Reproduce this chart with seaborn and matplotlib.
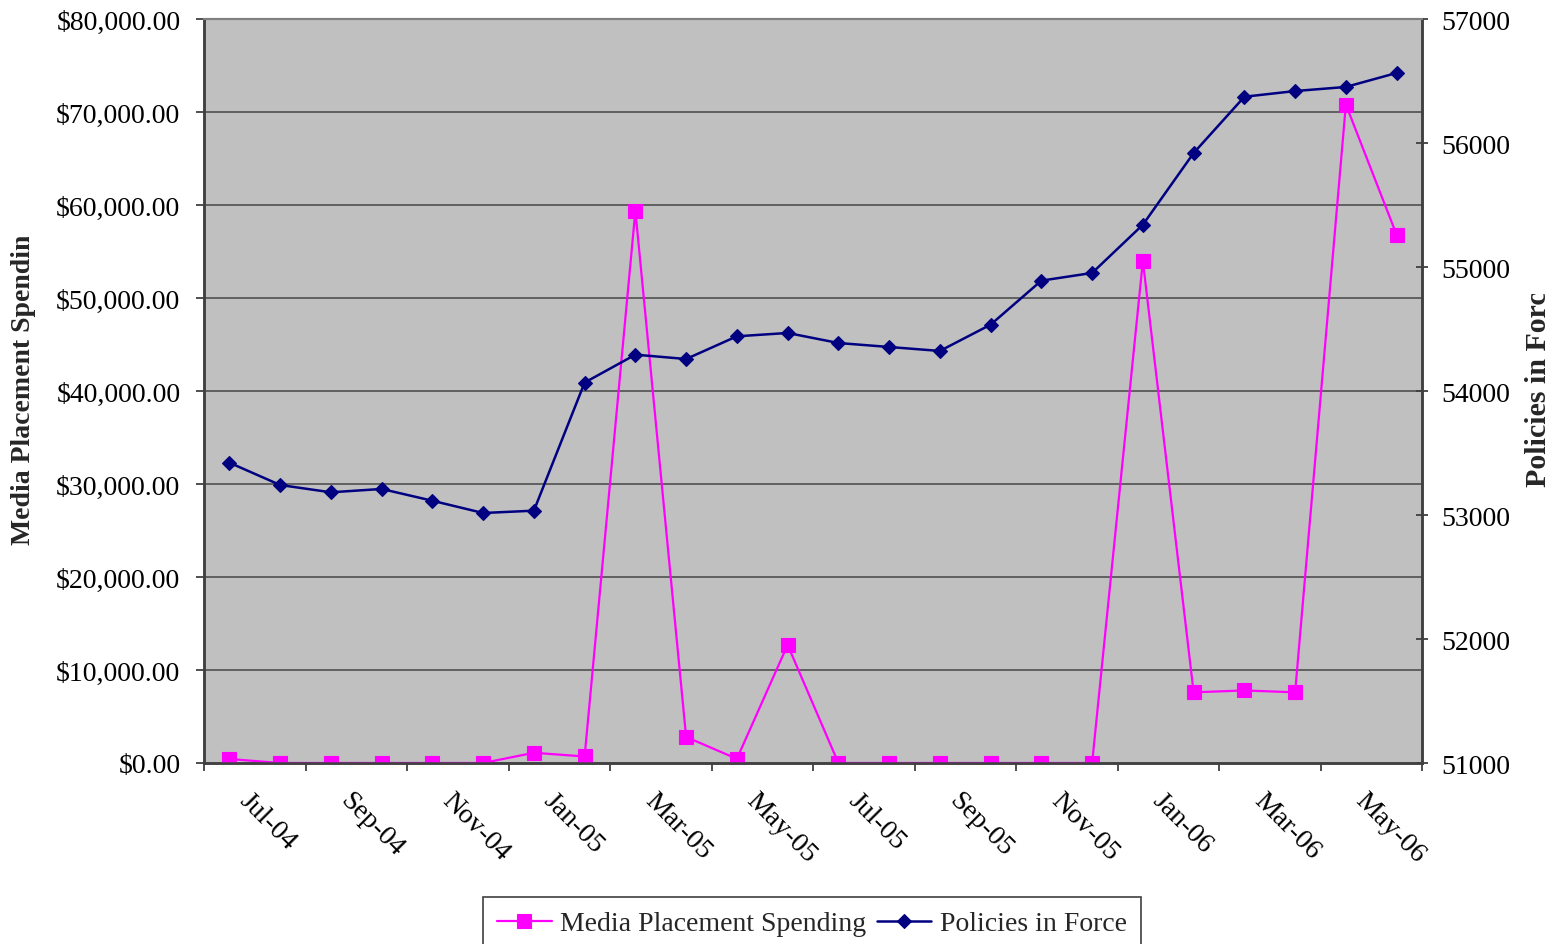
import matplotlib
matplotlib.use("Agg")
import matplotlib.pyplot as plt
import seaborn as sns
import pandas as pd
from matplotlib.transforms import Bbox, ScaledTranslation
from matplotlib.ticker import FuncFormatter, FixedLocator

# ---------------- data ----------------
months = ["Jul-04", "Aug-04", "Sep-04", "Oct-04", "Nov-04", "Dec-04",
          "Jan-05", "Feb-05", "Mar-05", "Apr-05", "May-05", "Jun-05",
          "Jul-05", "Aug-05", "Sep-05", "Oct-05", "Nov-05", "Dec-05",
          "Jan-06", "Feb-06", "Mar-06", "Apr-06", "May-06", "Jun-06"]
media_spending = [430, 0, 0, 0, 0, 0,
                  1100, 700, 59400, 2800, 450, 12700,
                  0, 0, 0, 0, 0, 0,
                  54000, 7600, 7800, 7600, 70800, 56800]
policies_in_force = [53422, 53242, 53183, 53210, 53115, 53016,
                     53035, 54068, 54293, 54258, 54441, 54468,
                     54387, 54355, 54323, 54535, 54890, 54952,
                     55341, 55919, 56373, 56419, 56452, 56565]
left_ticks = [0, 10000, 20000, 30000, 40000, 50000, 60000, 70000, 80000]
right_ticks = [51000, 52000, 53000, 54000, 55000, 56000, 57000]
series_names = ["Media Placement Spending", "Policies in Force"]

df = pd.DataFrame({"idx": range(len(months)), "month": months,
                   "media": media_spending, "policies": policies_in_force})

# ---------------- style ----------------
sns.set_theme(style="white")
plt.rcParams["font.family"] = ["Liberation Serif", "DejaVu Serif"]

W, H = 1564, 945
fig = plt.figure(figsize=(W / 100, H / 100), dpi=100)
fig.patch.set_facecolor("white")
ax = fig.add_axes([204 / W, 1 - 764 / H, (1422 - 204) / W, (764 - 20) / H])
ax.set_facecolor("#C0C0C0")
ax2 = ax.twinx()

PINK = "#FF00FF"
NAVY = "#000080"

sns.lineplot(data=df, x="idx", y="media", ax=ax, color=PINK, marker="s",
             markersize=9.5, markeredgecolor=PINK, markeredgewidth=0.8,
             linewidth=1.6, legend=False, zorder=3)
sns.lineplot(data=df, x="idx", y="policies", ax=ax2, color=NAVY, marker="D",
             markersize=7.5, markeredgecolor=NAVY, markeredgewidth=0.8,
             linewidth=1.8, legend=False, zorder=3)

# ---------------- axes ----------------
ax.set_xlim(-0.5, len(months) - 0.5)
ax.set_ylim(0, 80000)
ax2.set_ylim(51000, 57000)

ax.yaxis.set_major_locator(FixedLocator(left_ticks))
ax.yaxis.set_major_formatter(FuncFormatter(lambda v, p: f"${v:,.2f}"))
ax2.yaxis.set_major_locator(FixedLocator(right_ticks))
ax2.yaxis.set_major_formatter(FuncFormatter(lambda v, p: f"{int(v)}"))

ax.grid(False)
ax2.grid(False)
for v in left_ticks[1:-1]:
    ax.axhline(v, color="#505050", linewidth=1.2, zorder=1)

label_idx = list(range(0, len(months), 2))
ax.set_xticks(label_idx)
ax.set_xticklabels([months[i] for i in label_idx])
ax.set_xticks([i - 0.5 for i in range(0, len(months) + 1, 2)], minor=True)

TICKFS = 20
ax.tick_params(axis="x", which="major", length=0, pad=17.5, labelsize=TICKFS,
               colors="black")
ax.tick_params(axis="x", which="minor", length=6, width=1.3, direction="out",
               color="#404040", bottom=True)
ax.tick_params(axis="y", which="major", length=6, width=1.3, direction="out",
               color="#404040", labelsize=TICKFS, pad=11, labelcolor="black",
               left=True)
ax2.tick_params(axis="y", which="major", length=8, width=1.3, direction="inout",
                color="#404040", labelsize=TICKFS, pad=10, labelcolor="black",
                right=True)
ax.set_xlabel("")
ax.set_ylabel("")
ax2.set_ylabel("")

offset = ScaledTranslation(22 / 100, 0, fig.dpi_scale_trans)
for lab in ax.get_xticklabels():
    lab.set_rotation(-45)
    lab.set_rotation_mode("anchor")
    lab.set_ha("left")
    lab.set_va("top")
    lab.set_transform(lab.get_transform() + offset)

for sp_ax in (ax, ax2):
    for name, sp in sp_ax.spines.items():
        sp.set_visible(True)
        sp.set_linewidth(1.8)
        sp.set_color("#404040")
    sp_ax.spines["top"].set_color("#808080")
    sp_ax.spines["top"].set_linewidth(1.5)

# ---------------- axis titles (clipped like the original) ----------------
t1 = fig.text(24 / W, 1 - 545 / H, "Media Placement Spending", rotation=90,
              ha="center", va="bottom", fontsize=20, fontweight="bold")
t1.set_clip_box(Bbox.from_extents(0, H - 545 - 5, 60, H - 238))
t1.set_clip_on(True)
t2 = fig.text(1538 / W, 1 - 487 / H, "Policies in Force", rotation=90,
              ha="center", va="bottom", fontsize=21.5, fontweight="bold")
t2.set_clip_box(Bbox.from_extents(1500, H - 487 - 5, W, H - 295))
t2.set_clip_on(True)

# ---------------- legend ----------------
handles = [ax.get_lines()[0], ax2.get_lines()[0]]
leg = fig.legend(handles, series_names, loc="upper center",
                 bbox_to_anchor=(812 / W, 1 - 898 / H), ncol=2,
                 fontsize=TICKFS, frameon=True, fancybox=False,
                 edgecolor="#404040", handlelength=1.95, handletextpad=0.3,
                 columnspacing=0.4, borderpad=0.5, borderaxespad=0)
leg.get_frame().set_linewidth(1.2)
leg.get_frame().set_facecolor("white")
leg.get_frame().set_alpha(1)

fig.savefig("out.png", dpi=100)
